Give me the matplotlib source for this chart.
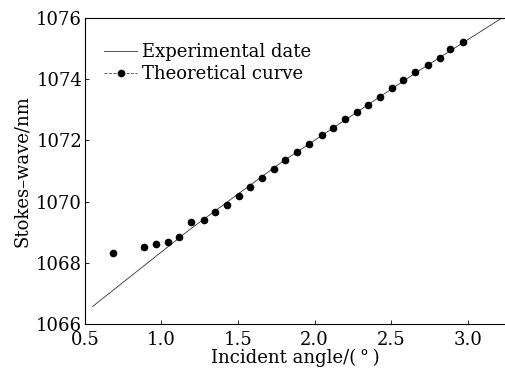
import matplotlib
matplotlib.use("Agg")
import matplotlib.pyplot as plt
from matplotlib.lines import Line2D

plt.rcParams['font.family'] = ['DejaVu Serif']

# experimental curve (slightly bent, points read along it)
line_x = [0.550, 1.185, 1.773, 2.295, 2.687, 3.227]
line_y = [1066.57, 1069.09, 1071.25, 1072.99, 1074.30, 1076.02]

# theoretical points
angle = [0.687, 0.885, 0.965, 1.044, 1.116, 1.194, 1.275, 1.347, 1.427, 1.503,
         1.577, 1.655, 1.734, 1.807, 1.886, 1.964, 2.045, 2.117, 2.197, 2.273,
         2.345, 2.426, 2.506, 2.574, 2.654, 2.737, 2.815, 2.884, 2.965]
stokes = [1068.31, 1068.51, 1068.61, 1068.67, 1068.83, 1069.32, 1069.41, 1069.66,
          1069.90, 1070.18, 1070.48, 1070.77, 1071.08, 1071.36, 1071.61, 1071.88,
          1072.18, 1072.42, 1072.70, 1072.93, 1073.17, 1073.43, 1073.73, 1073.96,
          1074.24, 1074.47, 1074.68, 1074.98, 1075.22]

xticks = [0.5, 1.0, 1.5, 2.0, 2.5, 3.0]
yticks = [1066, 1068, 1070, 1072, 1074, 1076]

fig = plt.figure(figsize=(5.05, 3.69), dpi=100)
ax = fig.add_axes([0.168, 0.122, 0.832, 0.829])

ax.plot(line_x, line_y, color='#333333', lw=0.6)
ax.plot(angle, stokes, 'o', color='black', ms=4.5, mec='black')

ax.set_xlim(0.5, 3.242)
ax.set_ylim(1066, 1076)
ax.set_xticks(xticks)
ax.set_xticklabels([f"{v:.1f}" for v in xticks])
ax.set_yticks(yticks)
ax.tick_params(direction='in', length=3, width=0.6, labelsize=13, pad=2)
ax.tick_params(axis='x', pad=5)
for side in ['left', 'bottom', 'top']:
    ax.spines[side].set_linewidth(0.8)
ax.spines['right'].set_visible(False)

ax.set_xlabel('Incident angle/(\u2009°\u2009)', fontsize=13, labelpad=0)
ax.set_ylabel('Stokes\u2013wave/nm', fontsize=13, labelpad=4)

handles = [Line2D([], [], color='#333333', lw=0.6),
           Line2D([], [], color='#555555', lw=0.6, ls='--', marker='o', ms=4.5, mfc='black', mec='black')]
ax.legend(handles, ['Experimental date', 'Theoretical curve'], loc='upper left',
          bbox_to_anchor=(0.012, 0.965), frameon=False, fontsize=13, handlelength=1.8,
          handletextpad=0.3, labelspacing=0.2, borderaxespad=0.4)

fig.savefig('out.png', dpi=100)
